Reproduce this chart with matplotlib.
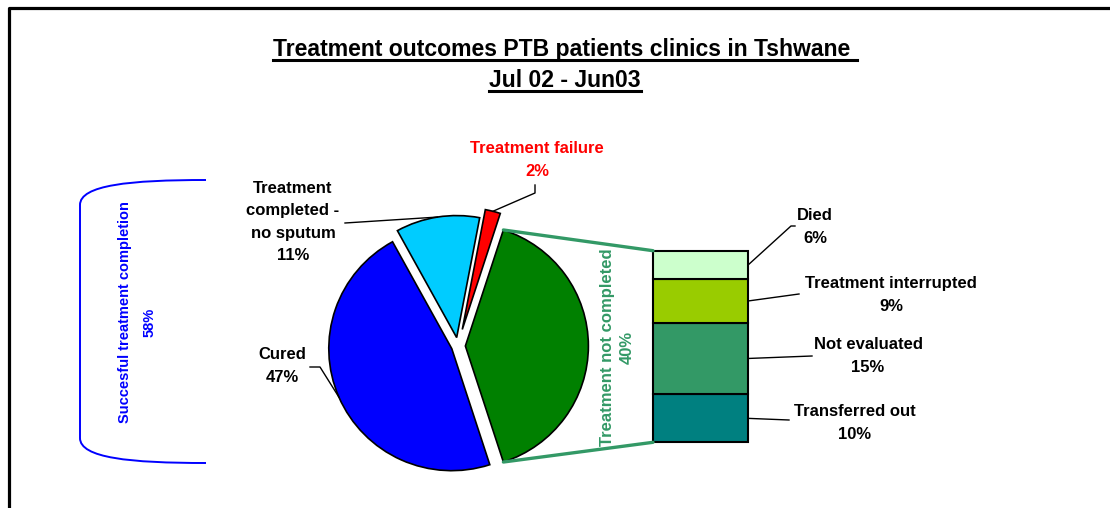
import numpy as np
import matplotlib
matplotlib.use('Agg')
import matplotlib.pyplot as plt
from matplotlib.patches import ConnectionPatch, PathPatch
from matplotlib.path import Path
from matplotlib.lines import Line2D

plt.rcParams['font.family'] = ['Liberation Sans', 'DejaVu Sans']
plt.rcParams['font.weight'] = 'bold'

# pie slices, counter-clockwise from the bottom of the split-off slice
pie_labels = ['Treatment not completed', 'Treatment failure',
              'Treatment\ncompleted -\nno sputum', 'Cured']
pie_values = [40, 2, 11, 47]
pie_colors = ['#008000', '#FF0000', '#00CCFF', '#0000FF']
pie_explode = [0.06, 0.14, 0.07, 0.055]

# breakdown of "not completed", bottom to top
bar_labels = ['Transferred out', 'Not evaluated', 'Treatment interrupted', 'Died']
bar_values = [10, 15, 9, 6]
bar_colors = ['#008080', '#339966', '#99CC00', '#CCFFCC']

success_label = 'Succesful treatment completion'
success_value = 58

W, H = 1110, 508
fig = plt.figure(figsize=(W / 100, H / 100), dpi=100)
fig.patch.set_facecolor('white')


def px(x, y):
    # pixel measured from top-left -> figure fraction
    return x / W, 1 - y / H


def to_fig(ax, xy):
    return fig.transFigure.inverted().transform(ax.transData.transform(xy))


def polyline(points, **kw):
    xs = [p[0] for p in points]
    ys = [p[1] for p in points]
    fig.add_artist(Line2D(xs, ys, transform=fig.transFigure, **kw))


# frame (only top and left edge visible)
polyline([px(8.5, 508), px(8.5, 7.5), px(1110, 7.5)], color='black', lw=2.3)

# title with underline
renderer = fig.canvas.get_renderer()
for txt, base, uline in [('Treatment outcomes PTB patients clinics in Tshwane ', 56, 59.5),
                         ('Jul 02 - Jun03', 87, 90.5)]:
    t = fig.text(*px(565, base), txt, ha='center', va='baseline', fontsize=16.6,
                 fontweight='bold')
    bb = t.get_window_extent(renderer)
    polyline([(bb.x0 / W, 1 - uline / H), (bb.x1 / W, 1 - uline / H)], color='black', lw=2.2)

# pie
cx, cy, rx, ry = 458, 346, 123, 122
lim = 1.3
ax_pie = fig.add_axes([(cx - lim * rx) / W, (H - cy - lim * ry) / H,
                       2 * lim * rx / W, 2 * lim * ry / H])
wedges, _ = ax_pie.pie(pie_values, colors=pie_colors, explode=pie_explode,
                       startangle=-72, counterclock=True,
                       wedgeprops=dict(edgecolor='black', linewidth=1.2))
ax_pie.set_aspect('auto')
ax_pie.set_xlim(-lim, lim)
ax_pie.set_ylim(-lim, lim)
ax_pie.axis('off')

# stacked bar
bar_top, bar_bot = 250.7, 442.3
bx0, bx1 = 653, 748
ax_bar = fig.add_axes([bx0 / W, (H - bar_bot) / H, (bx1 - bx0) / W, (bar_bot - bar_top) / H])
bottoms = np.cumsum([0] + bar_values[:-1])
bars = ax_bar.bar(0, bar_values, bottom=bottoms, width=1, color=bar_colors,
                  edgecolor='black', linewidth=1.5)
for b in bars:
    b.set_clip_on(False)
ax_bar.set_xlim(-0.5, 0.5)
ax_bar.set_ylim(0, sum(bar_values))
ax_bar.axis('off')

# connector lines from the green slice to the bar
g = wedges[0]
for ang, yb in [(g.theta2, sum(bar_values)), (g.theta1, 0)]:
    a = np.radians(ang)
    p = (g.center[0] + g.r * np.cos(a), g.center[1] + g.r * np.sin(a))
    con = ConnectionPatch(xyA=p, coordsA=ax_pie.transData, xyB=(-0.5, yb),
                          coordsB=ax_bar.transData, color='#339966', lw=2.4)
    fig.add_artist(con)


def rim(w):
    mid = np.radians((w.theta1 + w.theta2) / 2)
    return to_fig(ax_pie, (w.center[0] + w.r * np.cos(mid), w.center[1] + w.r * np.sin(mid)))


lab_kw = dict(ha='center', va='center', fontsize=12, fontweight='bold',
              linespacing=1.6, multialignment='center')

# pie labels
fig.text(*px(537, 160), f'{pie_labels[1]}\n{pie_values[1]}%', color='#FF0000', **lab_kw)
polyline([px(535, 185), px(535, 193), rim(wedges[1])], color='black', lw=1)

fig.text(*px(293, 222), f'{pie_labels[2]}\n{pie_values[2]}%', color='black', **lab_kw)
polyline([px(345, 223), rim(wedges[2])], color='black', lw=1)

fig.text(*px(282, 366), f'{pie_labels[3]}\n{pie_values[3]}%', color='black', **lab_kw)
polyline([px(310, 367), px(320, 367), rim(wedges[3])], color='black', lw=1)

fig.text(*px(617, 347), f'{pie_labels[0]}\n{pie_values[0]}%', color='#339966',
         rotation=90, **dict(lab_kw, linespacing=1.4))

# bar labels
bar_text_pos = [(855, 423), (868, 356), (891, 295), (815, 227)]
bar_elbows = [[(789, 420)], [(812, 356)], [(799, 294)], [(791, 226), (795, 226)]]
for lab, val, bot, tp, elb in zip(bar_labels, bar_values, bottoms, bar_text_pos, bar_elbows):
    fig.text(*px(*tp), f'{lab}\n{val}%', color='black', **lab_kw)
    start = to_fig(ax_bar, (0.5, bot + val / 2))
    polyline([start] + [px(*e) for e in elb], color='black', lw=1)

# bracket for successful completion
verts = [px(206, 180), px(130, 180), px(80, 185), px(80, 205),
         px(80, 438),
         px(80, 458), px(130, 463), px(206, 463)]
codes = [Path.MOVETO, Path.CURVE4, Path.CURVE4, Path.CURVE4,
         Path.LINETO,
         Path.CURVE4, Path.CURVE4, Path.CURVE4]
fig.add_artist(PathPatch(Path(verts, codes), transform=fig.transFigure,
                         facecolor='none', edgecolor='#0000FF', lw=1.4))
fig.text(*px(124.5, 312), success_label, color='#0000FF', rotation=90,
         ha='center', va='center', fontsize=10.5, fontweight='bold')
fig.text(*px(150, 322), f'{success_value}%', color='#0000FF', rotation=90,
         ha='center', va='center', fontsize=10.5, fontweight='bold')

fig.savefig('out.png', dpi=100)
